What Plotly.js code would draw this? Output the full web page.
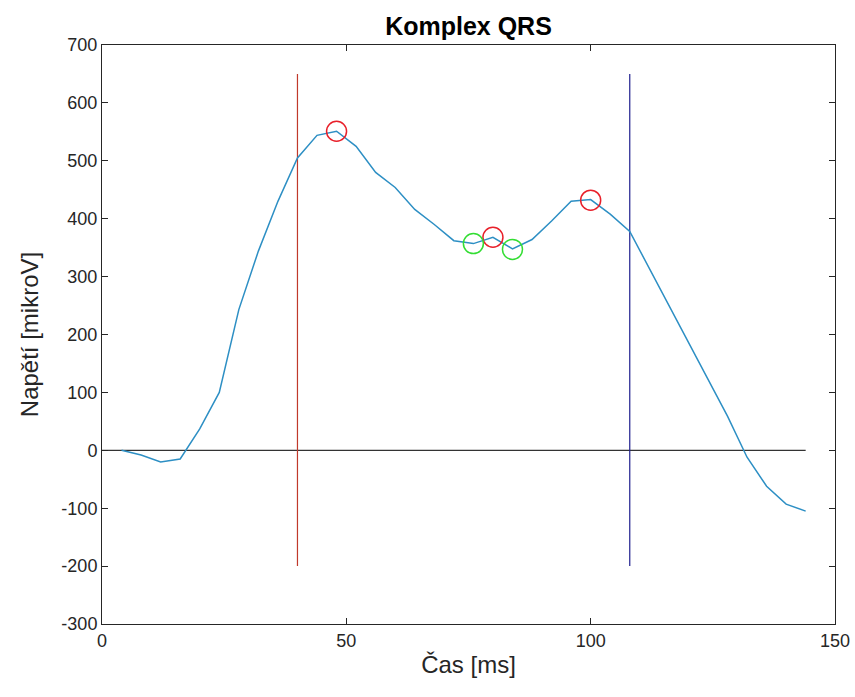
<!DOCTYPE html>
<html>
<head>
<meta charset="utf-8">
<script src="https://cdn.plot.ly/plotly-3.0.1.min.js"></script>
<style>html,body{margin:0;padding:0;background:#fff;}#chart{width:855px;height:697px;}</style>
</head>
<body>
<div id="chart"></div>
<script>
// QRS complex signal (time in ms, voltage in microvolts)
const casMs = [4,8,12,16,20,24,28,32,36,40,44,48,52,56,60,64,68,72,76,80,84,88,92,96,100,104,108,112,116,120,124,128,132,136,140,144];
const napeti = [0,-8,-20,-15,37,100,243,344,430,505,544,551,525,480,454,416,390,362,357,368,348,364,396,430,433,408,378,314,249,186,123,59,-12,-62,-93,-105];

// detected peaks (red) and valleys (green)
const peakX = [48, 80, 100];
const peakY = [551, 368, 432];
const valleyX = [76, 84];
const valleyY = [357, 347];

// QRS onset / offset markers
const onsetX = [40, 40];
const offsetX = [108, 108];
const markerRangeY = [-200, 650];

// baseline
const baseX = [0, 144];
const baseY = [0, 0];

// tick labels
const xTickVals = [0, 50, 100, 150];
const xTickText = ['0', '50', '100', '150'];
const yTickVals = [-300,-200,-100,0,100,200,300,400,500,600,700];
const yTickText = ['-300','-200','-100','0','100','200','300','400','500','600','700'];

const axisColor = '#262626';
const traces = [
  {x: baseX, y: baseY, mode: 'lines', line: {color: '#000000', width: 1}, hoverinfo: 'skip'},
  {x: onsetX, y: markerRangeY, mode: 'lines', line: {color: '#c0392b', width: 1.2}},
  {x: offsetX, y: markerRangeY, mode: 'lines', line: {color: '#1f1f8f', width: 1.2}},
  {x: casMs, y: napeti, mode: 'lines', line: {color: '#2d8fc4', width: 1.5}},
  {x: peakX, y: peakY, mode: 'markers', marker: {symbol: 'circle-open', size: 20, color: '#e8202a', line: {width: 1.5, color: '#e8202a'}}},
  {x: valleyX, y: valleyY, mode: 'markers', marker: {symbol: 'circle-open', size: 20, color: '#33dd33', line: {width: 1.5, color: '#33dd33'}}}
];

const layout = {
  width: 855, height: 697,
  margin: {l: 102, r: 20, t: 45, b: 73},
  paper_bgcolor: '#ffffff', plot_bgcolor: '#ffffff',
  showlegend: false,
  font: {family: 'Liberation Sans, Arial, sans-serif', color: axisColor},
  title: {text: '<b>Komplex QRS</b>', font: {size: 25, color: '#000000'}, xref: 'paper', x: 0.5, xanchor: 'center', yref: 'container', y: 0.962, yanchor: 'middle'},
  xaxis: {
    range: [0, 150], tickvals: xTickVals, ticktext: xTickText,
    showgrid: false, zeroline: false,
    showline: true, linecolor: axisColor, linewidth: 1, mirror: 'ticks',
    ticks: 'inside', ticklen: 6, tickcolor: axisColor,
    tickfont: {size: 18, color: axisColor},
    title: {text: 'Čas [ms]', font: {size: 24, color: axisColor}, standoff: 6}
  },
  yaxis: {
    range: [-300, 700], tickvals: yTickVals, ticktext: yTickText,
    showgrid: false, zeroline: false,
    showline: true, linecolor: axisColor, linewidth: 1, mirror: 'ticks',
    ticks: 'inside', ticklen: 6, tickcolor: axisColor,
    tickfont: {size: 18, color: axisColor},
    title: {text: 'Napětí [mikroV]', font: {size: 24, color: axisColor}, standoff: 15}
  }
};

Plotly.newPlot('chart', traces, layout, {displayModeBar: false, staticPlot: true});
</script>
</body>
</html>
